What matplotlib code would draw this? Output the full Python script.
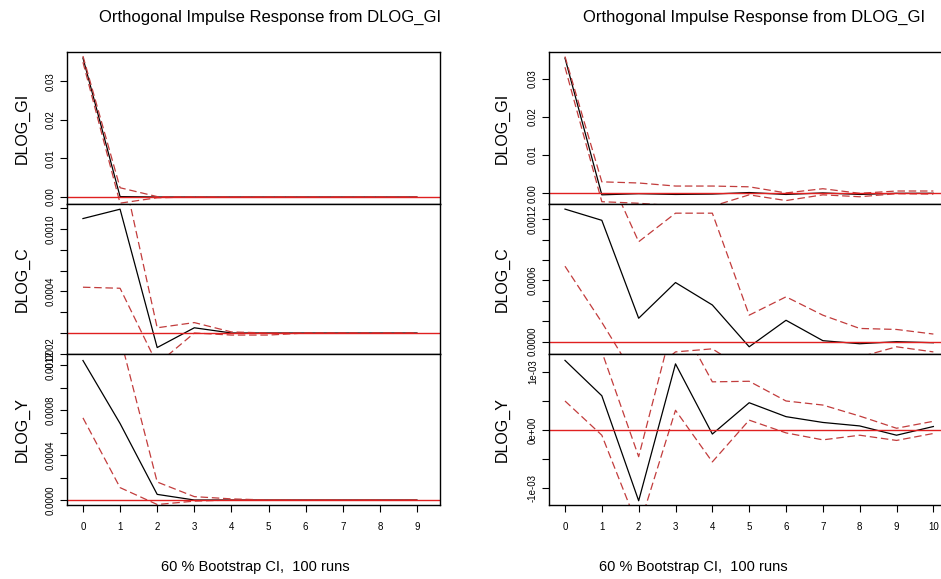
import numpy as np
import matplotlib
matplotlib.use("Agg")
import matplotlib.pyplot as plt

plt.rcParams['font.family'] = ['Liberation Sans', 'DejaVu Sans']

# horizons
steps_left = list(range(10))
steps_right = list(range(11))

# left figure: impulse DLOG_GI, responses GI / C / Y
gi_left = [0.0361, 0.0001, 0.0, 0.0, 0.0, 0.0, 0.0, 0.0, 0.0, 0.0]
gi_left_lo = [0.0350, -0.0016, -0.0002, 0.0, 0.0, 0.0, 0.0, 0.0, 0.0, 0.0]
gi_left_hi = [0.0366, 0.0024, 0.0001, 0.0, 0.0, 0.0, 0.0, 0.0, 0.0, 0.0]

c_left = [0.00110, 0.00119, -0.00014, 0.00005, 0.0, 0.0, 0.0, 0.0, 0.0, 0.0]
c_left_lo = [0.00044, 0.00043, -0.00030, 0.0, -0.00002, -0.00002, 0.0, 0.0, 0.0, 0.0]
c_left_hi = [0.00160, 0.00168, 0.00005, 0.00010, 0.00001, 0.0, 0.0, 0.0, 0.0, 0.0]

y_left = [0.00124, 0.00068, 0.00005, 0.0, 0.0, 0.0, 0.0, 0.0, 0.0, 0.0]
y_left_lo = [0.00073, 0.00011, -0.00004, -0.00001, 0.0, 0.0, 0.0, 0.0, 0.0, 0.0]
y_left_hi = [0.00190, 0.00145, 0.00016, 0.00003, 0.00001, 0.0, 0.0, 0.0, 0.0, 0.0]

# right figure
gi_right = [0.0354, -0.0004, -0.0001, -0.0003, -0.0002, 0.0002, -0.0003, 0.0001, -0.0003, 0.0, 0.0]
gi_right_lo = [0.0330, -0.0022, -0.0026, -0.0033, -0.0034, -0.0004, -0.0019, -0.0004, -0.0009, -0.0001, -0.0002]
gi_right_hi = [0.0358, 0.0030, 0.0027, 0.0019, 0.0019, 0.0017, 0.0001, 0.0012, 0.0, 0.0006, 0.0006]

c_right = [0.00130, 0.00119, 0.00023, 0.00058, 0.00036, -0.00005, 0.00021, 0.00001, -0.00002, 0.0, -0.00001]
c_right_lo = [0.00074, 0.00019, -0.00040, -0.00010, -0.00007, -0.00030, -0.00020, -0.00020, -0.00015, -0.00005, -0.00010]
c_right_hi = [0.00220, 0.00178, 0.00098, 0.00126, 0.00126, 0.00026, 0.00044, 0.00026, 0.00013, 0.00012, 0.000075]

y_right = [0.00120, 0.00059, -0.00122, 0.00114, -0.00007, 0.00047, 0.00023, 0.00013, 0.00007, -0.00009, 0.00006]
y_right_lo = [0.00050, -0.00009, -0.00170, 0.00034, -0.00055, 0.00017, -0.00005, -0.00017, -0.00009, -0.00018, -0.00006]
y_right_hi = [0.00220, 0.00135, -0.00046, 0.00200, 0.00083, 0.00084, 0.00050, 0.00043, 0.00024, 0.00003, 0.00015]

title = "Orthogonal Impulse Response from DLOG_GI"
footer = "60 % Bootstrap CI,  100 runs"
resp_names = ["DLOG_GI", "DLOG_C", "DLOG_Y"]

W, H = 941, 579
fig = plt.figure(figsize=(W / 100, H / 100), dpi=100)


def px_axes(x0, y0, x1, y1):
    return fig.add_axes([x0 / W, 1 - y1 / H, (x1 - x0) / W, (y1 - y0) / H])


def panel(ax, x, mid, lo, hi, ylim, ticks, labels, xlim):
    ax.plot(x, mid, color='black', lw=0.9)
    ax.plot(x, lo, color='#c23c3c', lw=0.9, ls=(0, (6, 3)))
    ax.plot(x, hi, color='#c23c3c', lw=0.9, ls=(0, (6, 3)))
    ax.axhline(0, color='#e02020', lw=1.0)
    ax.set_xlim(*xlim)
    ax.set_ylim(*ylim)
    ax.set_yticks(ticks, labels)
    ax.tick_params(axis='y', direction='out', length=5, width=0.8, pad=3,
                   labelsize=7, labelrotation=90)
    for t in ax.get_yticklabels():
        t.set_va('center')
    for s in ax.spines.values():
        s.set_linewidth(1.0)
        s.set_color('black')


rows = [(52, 204), (204, 354), (354, 505)]

# left figure
xl = (-0.43, 9.62)
left_sets = [
    (gi_left, gi_left_lo, gi_left_hi, (-0.00182, 0.03766),
     [0, 0.01, 0.02, 0.03], ['0.00', '0.01', '0.02', '0.03']),
    (c_left, c_left_lo, c_left_hi, (-0.000202, 0.00124),
     [-0.0002, 0.0, 0.0002, 0.0004, 0.0006, 0.0008, 0.0010, 0.0012],
     ['-0.0002', '', '', '0.0004', '', '', '0.0010', '']),
    (y_left, y_left_lo, y_left_hi, (-0.0000444, 0.0012978),
     [0.0, 0.0002, 0.0004, 0.0006, 0.0008, 0.0010, 0.0012],
     ['0.0000', '', '0.0004', '', '0.0008', '', '0.0012']),
]
for i, (m, lo, hi, yl, tk, lb) in enumerate(left_sets):
    ax = px_axes(67, rows[i][0], 440, rows[i][1])
    panel(ax, steps_left, m, lo, hi, yl, tk, lb, xl)
    if i < 2:
        ax.tick_params(axis='x', bottom=False, labelbottom=False)
    else:
        ax.set_xticks(steps_left)
        ax.tick_params(axis='x', direction='out', length=5, width=0.8,
                       pad=7, labelsize=7)
    fig.text(22 / W, 1 - (rows[i][0] + rows[i][1]) / 2 / H, resp_names[i],
             rotation=90, ha='center', va='center', fontsize=11.5)

# right figure
xr = (-0.434, 10.37)
right_sets = [
    (gi_right, gi_right_lo, gi_right_hi, (-0.0028, 0.03699),
     [0, 0.01, 0.02, 0.03], ['0.00', '0.01', '0.02', '0.03']),
    (c_right, c_right_lo, c_right_hi, (-0.0001206, 0.00135),
     [0.0, 0.0002, 0.0004, 0.0006, 0.0008, 0.0010, 0.0012],
     ['0.0000', '', '', '0.0006', '', '', '0.0012']),
    (y_right, y_right_lo, y_right_hi, (-0.001293, 0.00131),
     [-0.001, -0.0005, 0.0, 0.0005, 0.001],
     ['-1e-03', '', '0e+00', '', '1e-03']),
]
for i, (m, lo, hi, yl, tk, lb) in enumerate(right_sets):
    ax = px_axes(549, rows[i][0], 947, rows[i][1])
    panel(ax, steps_right, m, lo, hi, yl, tk, lb, xr)
    if i < 2:
        ax.tick_params(axis='x', bottom=False, labelbottom=False)
    else:
        ax.set_xticks(steps_right)
        ax.tick_params(axis='x', direction='out', length=5, width=0.8,
                       pad=7, labelsize=7)
    fig.text(502 / W, 1 - (rows[i][0] + rows[i][1]) / 2 / H, resp_names[i],
             rotation=90, ha='center', va='center', fontsize=11.5)

fig.text(270 / W, 1 - 17 / H, title, ha='center', va='center', fontsize=12)
fig.text(754 / W, 1 - 17 / H, title, ha='center', va='center', fontsize=12)
fig.text(255 / W, 1 - 567 / H, footer, ha='center', va='center', fontsize=10.5)
fig.text(693 / W, 1 - 567 / H, footer, ha='center', va='center', fontsize=10.5)

fig.savefig("out.png", dpi=100)
